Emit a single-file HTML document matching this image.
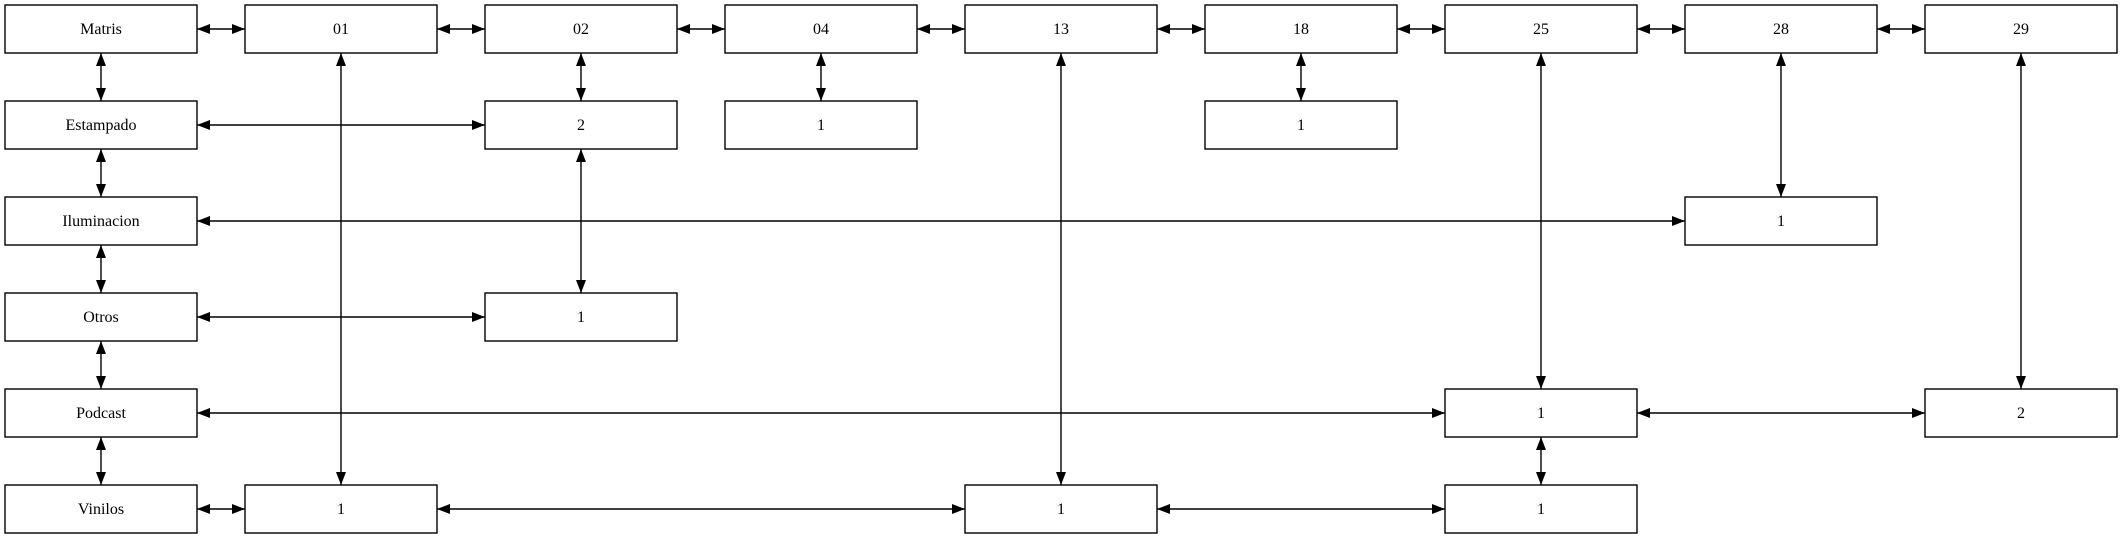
<!DOCTYPE html>
<html><head><meta charset="utf-8"><style>html,body{margin:0;padding:0;background:#fff}svg{display:block}</style></head>
<body>
<svg id="s" width="2123" height="539" xmlns="http://www.w3.org/2000/svg">
<defs><marker id="a" viewBox="0 0 13 10" refX="13" refY="5" markerWidth="13" markerHeight="10" markerUnits="userSpaceOnUse" orient="auto-start-reverse"><path d="M0,0L13,5L0,10z" fill="#000"/></marker></defs>
<g id="e" stroke="#000" stroke-width="1.4" fill="none"></g>
<g id="n" font-family="Liberation Serif, serif" font-size="16" text-anchor="middle"></g>
</svg>
<script>
const X=i=>5+240*i, Y=j=>5+96*j, W=192, H=48;
const nodes=[[0,0,"Matris"],[1,0,"01"],[2,0,"02"],[3,0,"04"],[4,0,"13"],[5,0,"18"],[6,0,"25"],[7,0,"28"],[8,0,"29"],
[0,1,"Estampado"],[2,1,"2"],[3,1,"1"],[5,1,"1"],[0,2,"Iluminacion"],[7,2,"1"],[0,3,"Otros"],[2,3,"1"],
[0,4,"Podcast"],[6,4,"1"],[8,4,"2"],[0,5,"Vinilos"],[1,5,"1"],[4,5,"1"],[6,5,"1"]];
let n="";for(const[i,j,t]of nodes){n+=`<rect x="${X(i)}" y="${Y(j)}" width="${W}" height="${H}" fill="#fff" stroke="#000" stroke-width="1.4"/><text x="${X(i)+96}" y="${Y(j)+29}">${t}</text>`;}
document.getElementById("n").innerHTML=n;
let e="";const ln=(x1,y1,x2,y2)=>e+=`<line x1="${x1}" y1="${y1}" x2="${x2}" y2="${y2}" marker-start="url(#a)" marker-end="url(#a)"/>`;
const h=(j,a,b)=>ln(X(a)+W,Y(j)+24,X(b),Y(j)+24);
const v=(i,a,b)=>ln(X(i)+96,Y(a)+H,X(i)+96,Y(b));
for(let i=0;i<8;i++)h(0,i,i+1);
for(let j=0;j<5;j++)v(0,j,j+1);
h(1,0,2);h(2,0,7);h(3,0,2);h(4,0,6);h(4,6,8);h(5,0,1);h(5,1,4);h(5,4,6);
v(1,0,5);v(2,0,1);v(2,1,3);v(3,0,1);v(4,0,5);v(5,0,1);v(6,0,4);v(7,0,2);v(8,0,4);v(6,4,5);
document.getElementById("e").innerHTML=e;
</script>
</body></html>
